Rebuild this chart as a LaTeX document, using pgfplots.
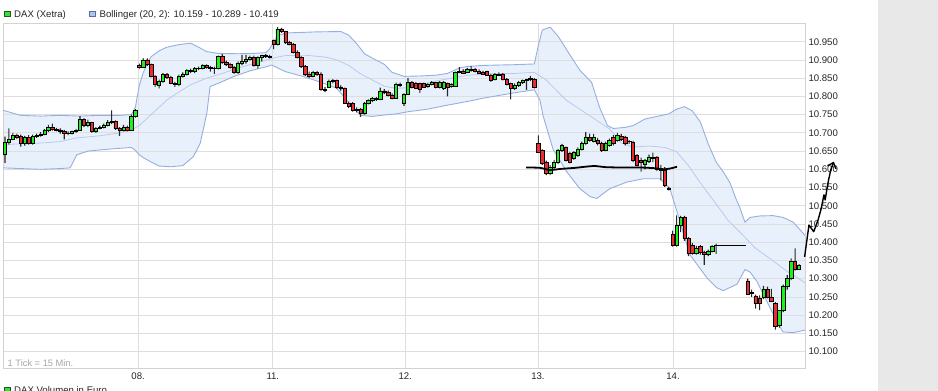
\documentclass[border=0pt]{standalone}
\usepackage{fontspec}
\setmainfont{Liberation Sans}
\usepackage{pgfplots}
\pgfplotsset{compat=1.18}
\usepackage{pgfplotstable}
\usetikzlibrary{arrows.meta}

\definecolor{cgreen}{RGB}{30,240,30}
\definecolor{cred}{RGB}{236,45,45}
\definecolor{wickc}{RGB}{40,40,40}
\definecolor{bandfill}{RGB}{232,240,252}
\definecolor{bandline}{RGB}{150,175,225}
\definecolor{midline}{RGB}{185,202,238}
\definecolor{gridgray}{RGB}{222,222,222}
\definecolor{axisgray}{RGB}{210,210,210}
\definecolor{panelgray}{RGB}{232,232,232}
\definecolor{legblue}{RGB}{176,196,238}
\definecolor{legbluedark}{RGB}{90,110,160}
\definecolor{leggreen}{RGB}{60,220,60}
\definecolor{leggreendark}{RGB}{30,90,30}

\newcommand\lbl{\fontsize{9.6bp}{11bp}\selectfont}

% candles: index, open, high, low, close (15-minute ticks)
\pgfplotstableread{
x o h l c
1 10640 10690 10618 10674
2 10674 10712 10668 10683
3 10683 10700 10680 10692
4 10692 10698 10683 10688
5 10690 10695 10662 10672
6 10672 10692 10665 10688
7 10688 10694 10668 10672
8 10672 10695 10668 10690
9 10690 10698 10686 10694
10 10694 10702 10690 10697
11 10697 10710 10694 10706
12 10706 10722 10702 10716
13 10716 10725 10706 10710
14 10710 10714 10704 10708
15 10708 10712 10698 10704
16 10704 10708 10682 10700
17 10700 10704 10694 10699
18 10699 10706 10696 10703
19 10703 10710 10700 10708
20 10708 10746 10706 10736
21 10736 10740 10716 10720
22 10720 10736 10716 10728
23 10728 10730 10700 10704
24 10704 10716 10700 10712
25 10712 10720 10710 10716
26 10716 10725 10712 10722
27 10722 10735 10718 10730
28 10730 10762 10724 10731
29 10731 10734 10708 10712
30 10712 10716 10692 10706
31 10706 10722 10704 10716
32 10716 10720 10704 10708
33 10708 10750 10706 10745
34 10745 10765 10742 10761
35 10886 10890 10876 10880
36 10880 10904 10878 10900
37 10900 10904 10884 10888
38 10888 10890 10852 10856
39 10856 10858 10826 10832
40 10830 10846 10822 10842
41 10842 10864 10838 10860
42 10860 10864 10848 10852
43 10852 10856 10834 10836
44 10836 10840 10826 10832
45 10832 10860 10828 10856
46 10856 10866 10852 10862
47 10862 10874 10858 10872
48 10872 10876 10864 10868
49 10868 10880 10864 10876
50 10876 10882 10872 10878
51 10878 10888 10874 10884
52 10884 10888 10876 10880
53 10880 10884 10868 10878
54 10878 10882 10862 10876
55 10876 10912 10874 10910
56 10910 10916 10890 10894
57 10894 10898 10884 10888
58 10888 10892 10876 10880
59 10880 10884 10862 10866
60 10866 10896 10862 10892
61 10892 10914 10886 10896
62 10896 10914 10890 10902
63 10902 10912 10898 10908
64 10908 10912 10882 10886
65 10886 10910 10876 10906
66 10906 10914 10896 10912
67 10912 10916 10906 10910
68 10910 10914 10904 10908
69 10953 10956 10930 10943
70 10943 10990 10940 10985
71 10985 10988 10974 10978
72 10978 10980 10944 10948
73 10948 10952 10940 10944
74 10944 10946 10918 10922
75 10922 10926 10904 10908
76 10908 10910 10878 10882
77 10882 10886 10856 10862
78 10862 10868 10850 10856
79 10855 10870 10852 10866
80 10866 10870 10856 10860
81 10860 10866 10816 10820
82 10820 10826 10812 10816
83 10826 10846 10824 10842
84 10842 10848 10836 10844
85 10844 10846 10820 10824
86 10824 10830 10816 10822
87 10822 10824 10780 10782
88 10782 10786 10768 10772
89 10780 10784 10758 10762
90 10762 10770 10756 10765
91 10765 10768 10744 10753
92 10753 10784 10750 10781
93 10781 10792 10778 10788
94 10788 10798 10784 10794
95 10794 10798 10788 10792
96 10792 10824 10790 10815
97 10815 10820 10806 10812
98 10812 10816 10800 10804
99 10804 10808 10792 10796
100 10796 10838 10794 10834
101 10834 10838 10826 10830
102 10780 10808 10774 10806
103 10806 10850 10804 10840
104 10840 10842 10822 10824
105 10836 10840 10820 10822
106 10835 10838 10810 10820
107 10835 10838 10824 10826
108 10828 10836 10824 10834
109 10834 10842 10830 10838
110 10838 10840 10822 10826
111 10824 10842 10822 10840
112 10822 10842 10818 10840
113 10836 10838 10800 10826
114 10828 10836 10824 10834
115 10829 10868 10826 10866
116 10866 10880 10864 10869
117 10870 10874 10862 10864
118 10866 10878 10864 10875
119 10875 10884 10868 10871
120 10873 10878 10866 10869
121 10870 10874 10862 10864
122 10866 10870 10860 10862
123 10868 10870 10856 10859
124 10859 10862 10840 10843
125 10847 10864 10844 10861
126 10861 10866 10856 10859
127 10861 10864 10844 10847
128 10847 10850 10830 10833
129 10835 10838 10792 10822
130 10822 10836 10818 10830
131 10830 10842 10826 10838
132 10838 10846 10834 10844
133 10844 10848 10818 10846
134 10846 10856 10842 10850
135 10846 10850 10822 10826
136 10672 10693 10645 10647
137 10652 10655 10612 10616
138 10620 10624 10584 10590
139 10590 10612 10584 10606
140 10606 10626 10600 10620
141 10618 10656 10614 10652
142 10652 10670 10648 10665
143 10660 10662 10622 10625
144 10644 10648 10616 10620
145 10630 10650 10626 10647
146 10638 10660 10634 10656
147 10656 10676 10652 10672
148 10672 10702 10668 10688
149 10688 10698 10676 10680
150 10677 10697 10674 10688
151 10680 10686 10666 10671
152 10672 10676 10648 10652
153 10652 10676 10650 10672
154 10666 10684 10662 10679
155 10688 10694 10666 10670
156 10680 10700 10676 10693
157 10691 10697 10678 10682
158 10688 10692 10666 10670
159 10676 10680 10670 10677
160 10674 10678 10620 10625
161 10638 10642 10608 10612
162 10625 10632 10594 10620
163 10613 10628 10600 10625
164 10622 10640 10618 10634
165 10630 10646 10620 10632
166 10634 10636 10596 10600
167 10600 10612 10570 10597
168 10597 10606 10552 10556
169 10549 10552 10542 10545
170 10421 10432 10388 10392
171 10392 10474 10388 10446
172 10446 10472 10428 10468
173 10468 10472 10404 10410
174 10410 10414 10362 10370
175 10392 10398 10366 10370
176 10370 10390 10366 10384
177 10388 10392 10366 10372
178 10372 10376 10338 10366
179 10366 10380 10362 10376
180 10376 10392 10372 10388
181 10391 10396 10368 10392
182 10391 10392 10391 10392
183 10391 10392 10391 10392
184 10391 10392 10391 10392
185 10391 10392 10391 10392
186 10391 10392 10391 10392
187 10391 10392 10391 10392
188 10391 10392 10391 10392
189 10294 10300 10256 10258
190 10260 10270 10250 10262
191 10253 10256 10218 10232
192 10246 10254 10214 10232
193 10249 10280 10244 10271
194 10271 10278 10246 10250
195 10250 10272 10236 10238
196 10232 10236 10160 10170
197 10172 10214 10166 10212
198 10212 10284 10208 10280
199 10280 10310 10270 10300
200 10300 10356 10296 10347
201 10347 10383 10322 10327
202 10327 10340 10325 10336
}\candles

\pgfplotstableread{
x y
0.5 10762
5 10748
10 10746
15 10748
20 10746
25 10748
30 10748
33 10750
34 10770
35 10830
36 10865
37 10890
38 10909
40 10925
42 10935
45 10942
48 10946
50 10935
52 10923
55 10918
60 10917
64 10918
67 10920
68 10930
69 10950
70 10966
72 10974
80 10977
86 10978
88 10968
90 10945
92 10917
94 10905
97 10888
99 10866
102 10855
106 10856
110 10858
113 10863
116 10878
118 10882
122 10885
130 10887
135 10889
136 10940
137 10982
139 10990
141 10965
144 10914
146.5 10872
149.5 10838
151.5 10770
153.5 10720
155 10712
158 10715
160 10720
163 10738
166 10745
169 10752
171 10765
173 10772
175 10760
177 10730
179 10670
181 10620
183 10590
184.5 10563
186 10520
187 10495
188.3 10455
189.6 10468
192 10472
195.4 10473
198 10468
200.5 10455
203.5 10419
}\bandU

\pgfplotstableread{
x y
0.5 10668
10 10672
15 10676
19 10686
25 10692
30 10700
33 10708
35 10720
38 10750
40 10770
42 10790
45 10812
48 10832
52 10850
56 10863
60 10878
64 10890
68 10902
70 10908
72 10912
77 10913
82 10908
85 10900
88 10885
91 10862
94 10845
97 10828
100 10822
103 10824
106 10832
110 10842
114 10850
118 10858
124 10862
130 10863
135 10866
138 10845
143 10790
149 10747
154 10711
157 10672
160 10661
164 10664
168 10660
171 10648
174 10610
177 10563
181 10505
184 10460
187 10428
191 10383
195 10352
199 10320
203.5 10289
}\bandM

\pgfplotstableread{
x y
0.5 10604
5 10602
10 10600
15 10602
17.5 10604
19.2 10640
22 10650
28 10656
33 10660
34 10652
35 10640
36 10632
38 10620
40 10609
43 10607
46 10610
48.7 10635
50.4 10671
52.1 10754
52.9 10827
55 10836
59 10855
63 10870
67 10881
68.5 10886
72 10868
77 10853
82 10835
85 10822
87.5 10790
89 10770
91 10748
94 10745
97 10749
100 10752
103 10758
108 10765
113 10776
118 10786
122 10795
130 10810
135 10818
136.4 10790
137.2 10747
139.7 10656
143.2 10593
146.5 10547
149.1 10525
150.8 10520
154.1 10547
158.4 10565
162.5 10574
166.8 10574
169.3 10547
171.1 10484
174.4 10365
178.7 10302
181.2 10275
182.8 10267
186.3 10285
188.3 10325
189.6 10318
191.3 10293
195.4 10204
197.9 10154
200.5 10152
203.5 10159
}\bandL

\pgfplotsset{
  chartgeom/.style={at={(3bp,23bp)}, anchor=south west, scale only axis,
    width=802bp, height=344.5bp, xmin=0.5, xmax=203.5, ymin=10055, ymax=11000},
}

\begin{document}
\begin{tikzpicture}
\fill[white] (0,0) rectangle (938bp,391bp);
\fill[panelgray] (878bp,0) rectangle (938bp,391bp);

% band area: fill under the upper band, then clear under the lower band
\begin{axis}[chartgeom, hide axis]
\addplot[fill=bandfill, draw=none] table[x=x,y=y]{\bandU} \closedcycle;
\addplot[fill=white, draw=none] table[x=x,y=y]{\bandL} \closedcycle;
\end{axis}

% grid, frame, tick labels, band lines
\begin{axis}[chartgeom,
  axis line style={draw=axisgray, line width=0.8bp},
  xtick={34.7,68.8,102.3,135.9,170.1},
  xticklabels={08.,11.,12.,13.,14.},
  ytick={10100,10150,...,10950},
  scaled y ticks=false,
  grid=major, major grid style={draw=gridgray, line width=0.8bp},
  major tick length=0pt,
  yticklabel pos=right,
  ticklabel style={font=\lbl, text=black!85},
  yticklabel style={anchor=west, inner sep=0pt, xshift=3.3bp,
    /pgf/number format/.cd, fixed, precision=0, 1000 sep={.}, assume math mode=true},
  xticklabel style={anchor=north, inner sep=0pt, yshift=-4.3bp}]
\addplot[bandline, line width=0.9bp] table[x=x,y=y]{\bandU};
\addplot[bandline, line width=0.9bp] table[x=x,y=y]{\bandL};
\addplot[midline, line width=0.8bp] table[x=x,y=y]{\bandM};
\end{axis}

% wicks
\begin{axis}[chartgeom, hide axis, ybar stacked, bar width=1.1bp]
\addplot[draw=none, fill=none] table[x=x, y=l]{\candles};
\addplot[draw=none, fill=wickc] table[x=x, y expr=\thisrow{h}-\thisrow{l}]{\candles};
\end{axis}

% bodies
\begin{axis}[chartgeom, hide axis, ybar stacked, bar width=3.3bp]
\addplot[draw=none, fill=none] table[x=x, y expr={min(\thisrow{o},\thisrow{c})}]{\candles};
\addplot[draw=black, line width=0.6bp, fill=cgreen] table[x=x, y expr={max(\thisrow{c}-\thisrow{o},0)}]{\candles};
\addplot[draw=black, line width=0.6bp, fill=cred] table[x=x, y expr={max(\thisrow{o}-\thisrow{c},0)}]{\candles};
\end{axis}

% hand-drawn annotations
\begin{axis}[chartgeom, hide axis, clip=false]
\addplot[black, line width=1.8bp, smooth] coordinates {(132.9,10605) (136.4,10604) (139,10598) (141.5,10601) (145.3,10604) (147.8,10607) (150.3,10609) (152.9,10606) (156.7,10605) (161.7,10605) (165.5,10603) (168,10600) (169.3,10602) (171.1,10607)};
\addplot[black, line width=1.4bp, line join=round, -{Straight Barb[length=5bp,width=9bp]}] coordinates {(203.4,10360) (204.5,10447) (205.7,10429) (206.8,10461) (207.5,10488) (208.3,10530) (208.6,10516) (209.3,10562) (210.0,10598) (210.8,10621)};
\end{axis}

% legend and notes
\filldraw[fill=leggreen, draw=leggreendark, line width=0.6bp] (4.5bp,374.5bp) rectangle (10bp,380bp);
\node[anchor=base west, inner sep=0pt, text=black!85] at (14bp,373bp) {\lbl DAX (Xetra)};
\filldraw[fill=legblue, draw=legbluedark, line width=0.6bp] (89.5bp,374.5bp) rectangle (95bp,380bp);
\node[anchor=base west, inner sep=0pt, text=black!85] at (99.5bp,373bp) {\lbl Bollinger (20, 2): 10.159 - 10.289 - 10.419};
\node[anchor=base west, inner sep=0pt, text=black!35] at (7.5bp,24.8bp) {\fontsize{9.3bp}{11bp}\selectfont 1 Tick = 15 Min.};
\filldraw[fill=leggreen, draw=leggreendark, line width=0.6bp] (4.5bp,-2bp) rectangle (10bp,4bp);
\node[anchor=base west, inner sep=0pt, text=black!85] at (14bp,-2.7bp) {\lbl DAX Volumen in Euro};
\pgfresetboundingbox
\path[use as bounding box] (0,0) rectangle (938bp,391bp);
\end{tikzpicture}
\end{document}
